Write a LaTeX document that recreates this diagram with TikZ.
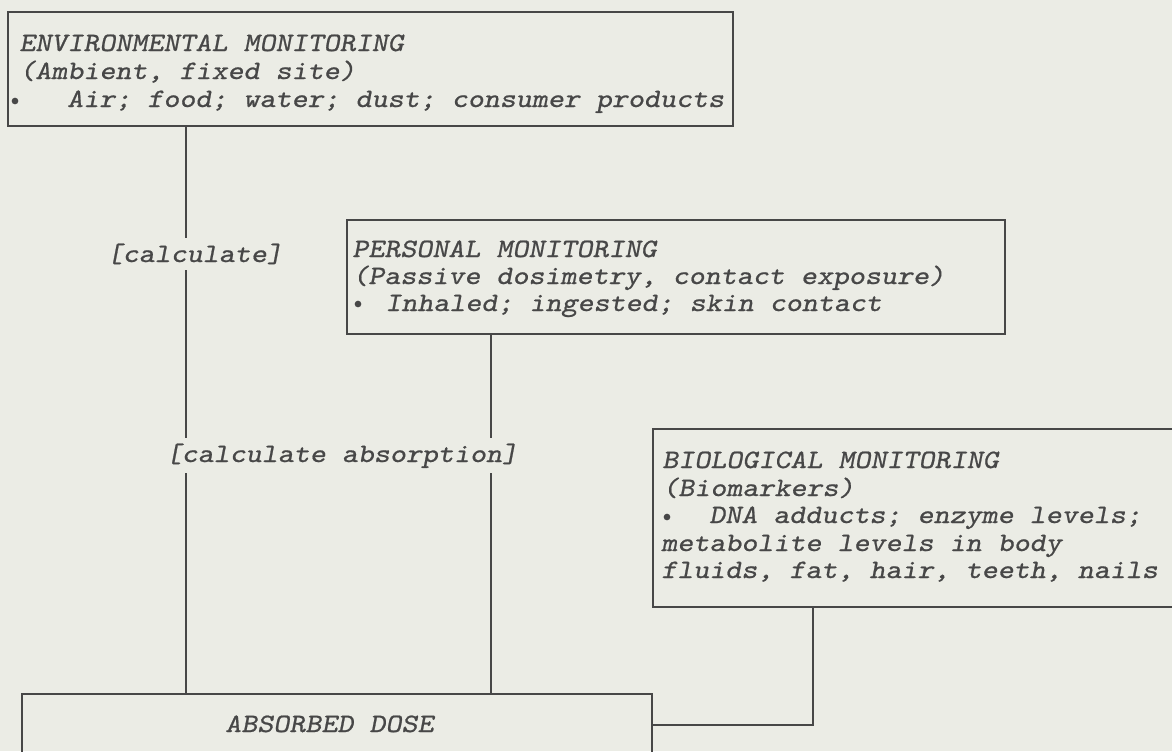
\documentclass[tikz,border=0pt]{standalone}
\usepackage{fontspec}
\newfontfamily\courfont{lmmonoslant10-regular.otf}[FakeStretch=1.15,FakeBold=0.8]
\usetikzlibrary{fit}
\definecolor{bg}{HTML}{EBECE5}
\definecolor{ink}{HTML}{474747}
\begin{document}
\begin{tikzpicture}[x=0.75pt,y=-0.75pt,
  box/.style={draw=ink, line width=1.2pt, inner sep=0pt, outer sep=0pt},
  txt/.style={anchor=base west, inner sep=0pt, text=ink, font=\courfont\fontsize{19.9}{20}\selectfont},
  bul/.style={circle, fill=ink, inner sep=0pt, minimum size=5pt},
  lbl/.style={txt, fill=bg, inner xsep=1pt, inner ysep=4pt},
  wire/.style={draw=ink, line width=0.9pt}]
\path[use as bounding box] (0,0) rectangle (1172,751);
\fill[bg] (0,0) rectangle (1172,751);
\clip (0,0) rectangle (1172,751);
% boxes
\node[box, fit={(8,12) (733,126)}] (env) {};
\node[box, fit={(347,220) (1005,334)}] (pers) {};
\node[box, fit={(653,429) (1190,607)}] (bio) {};
\node[box, fit={(22,694) (652,780)}] (abs) {};
% connector x positions
\coordinate (xL) at (186,0);
\coordinate (xM) at (491,0);
\coordinate (xR) at (813,0);
\coordinate (yB) at (0,725);
\draw[wire] (env.south -| xL) -- (abs.north -| xL);
\draw[wire] (pers.south -| xM) -- (abs.north -| xM);
\draw[wire] (bio.south -| xR) -- (xR |- yB) -- (abs.east |- yB);
% environmental
\node[txt] (e1) at (19,51) {ENVIRONMENTAL MONITORING};
\node[txt] (e2) at (19,79) {(Ambient, fixed site)};
\node[bul] (eb) at (15,101) {};
\node[txt] (e3) at (67,107) {Air; food; water; dust; consumer products};
% personal
\node[txt] (p1) at (352,257) {PERSONAL MONITORING};
\node[txt] (p2) at (352,284) {(Passive dosimetry, contact exposure)};
\node[bul] (pb) at (358,304) {};
\node[txt] (p3) at (385,311) {Inhaled; ingested; skin contact};
% biological
\node[txt] (b1) at (662,468) {BIOLOGICAL MONITORING};
\node[txt] (b2) at (662,496) {(Biomarkers)};
\node[bul] (bb) at (667,517) {};
\node[txt] (b3) at (709,523) {DNA adducts; enzyme levels;};
\node[txt] (b4) at (661,551) {metabolite levels in body};
\node[txt] (b5) at (661,578) {fluids, fat, hair, teeth, nails};
% labels
\node[lbl] (calc) at (105,262) {[calculate]};
\node[lbl] (calcabs) at (164,462) {[calculate absorption]};
\node[txt] (absd) at (225,732) {ABSORBED DOSE};
\end{tikzpicture}
\end{document}
